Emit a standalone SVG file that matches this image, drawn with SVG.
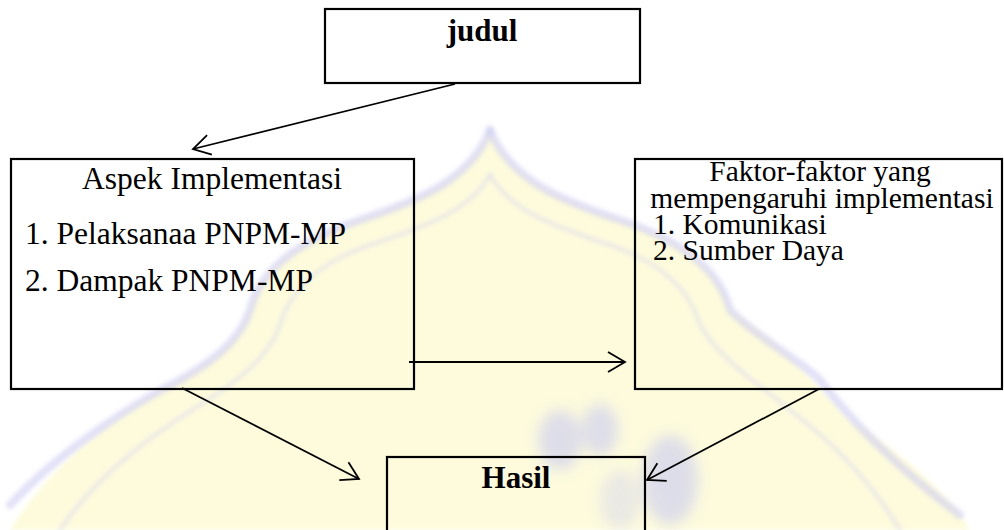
<svg xmlns="http://www.w3.org/2000/svg" width="1004" height="530" viewBox="0 0 1004 530">
  <style>
    .box { fill: none; stroke: #000; stroke-width: 2.2; }
    .t { font-family: "Liberation Serif", "Times New Roman", serif; font-size: 31.5px; fill: #000; }
    .tf { font-family: "Liberation Serif", "Times New Roman", serif; font-size: 29.5px; fill: #000; }
    .b { font-family: "Liberation Serif", "Times New Roman", serif; font-size: 31px; font-weight: bold; fill: #000; }
    .edge { fill: none; stroke: #000; stroke-width: 1.8; marker-end: url(#arr); }
    .wm { fill: none; stroke: #cfcdf2; stroke-linejoin: round; stroke-linecap: round; }
    .blob { fill: #c9caf2; }
  </style>
  <defs>
    <marker id="arr" markerUnits="userSpaceOnUse" markerWidth="30" markerHeight="30" refX="0" refY="0" viewBox="-20 -15 25 30" orient="auto">
      <path d="M -17 -10 L 0 0 L -17 10" fill="none" stroke="#000" stroke-width="1.8"/>
    </marker>
    <filter id="soft" x="-20%" y="-20%" width="140%" height="140%">
      <feGaussianBlur stdDeviation="7"/>
    </filter>
    <filter id="soft2" x="-10%" y="-10%" width="120%" height="120%">
      <feGaussianBlur stdDeviation="2"/>
    </filter>
  </defs>
  <rect x="0" y="0" width="1004" height="530" fill="#ffffff"/>

  <!-- faint watermark -->
  <g id="watermark">
    <path d="M 490 130 C 470 180, 420 200, 360 220 C 300 240, 260 270, 250 310 C 240 340, 215 360, 180 380 C 140 400, 60 450, 10 530 L 970 530 C 940 480, 880 440, 850 420 C 820 390, 790 350, 730 310 C 720 270, 680 240, 620 220 C 560 200, 510 180, 490 130 Z" fill="#fdfbd6" opacity="0.85" filter="url(#soft2)"/>
    <g filter="url(#soft2)">
      <path class="wm" stroke-width="8" opacity="0.6" d="M 490 130 C 470 180, 420 200, 360 220 C 300 240, 260 270, 250 310 C 240 340, 215 360, 180 380 C 140 400, 60 450, 10 505"/>
      <path class="wm" stroke-width="8" opacity="0.6" d="M 490 130 C 510 180, 560 200, 620 220 C 680 240, 720 270, 730 310 C 760 340, 800 360, 820 380 C 850 420, 900 470, 960 515"/>
      <path class="wm" stroke-width="4" opacity="0.4" d="M 490 175 C 470 210, 430 225, 370 245 C 320 262, 290 290, 280 325 C 270 355, 240 380, 200 405 C 160 430, 100 470, 60 530"/>
      <path class="wm" stroke-width="4" opacity="0.4" d="M 490 175 C 510 210, 550 225, 610 245 C 660 262, 690 290, 700 325 C 720 360, 760 385, 790 410 C 830 440, 870 480, 900 530"/>
    </g>
    <g opacity="0.6" filter="url(#soft)">
      <ellipse class="blob" cx="560" cy="440" rx="22" ry="30"/>
      <ellipse class="blob" cx="600" cy="430" rx="18" ry="26"/>
      <ellipse class="blob" cx="670" cy="480" rx="28" ry="45"/>
      <ellipse class="blob" cx="620" cy="500" rx="20" ry="30" opacity="0.6"/>
    </g>
  </g>

  <g id="judul">
    <rect class="box" x="325" y="9" width="315" height="74" fill="#fff"/>
    <text class="b" x="482" y="41" text-anchor="middle">judul</text>
  </g>

  <g id="aspek">
    <rect class="box" x="11" y="159" width="403" height="230" fill="#fff" fill-opacity="0.5"/>
    <text class="t" x="212" y="189" text-anchor="middle">Aspek Implementasi</text>
    <text class="t" x="25" y="244">1. Pelaksanaa PNPM-MP</text>
    <text class="t" x="25" y="291">2. Dampak PNPM-MP</text>
  </g>

  <g id="faktor">
    <rect class="box" x="635" y="159" width="367" height="230" fill="#fff" fill-opacity="0.5"/>
    <text class="tf" x="820" y="181" text-anchor="middle">Faktor-faktor yang</text>
    <text class="tf" x="822" y="208" text-anchor="middle">mempengaruhi implementasi</text>
    <text class="tf" x="653" y="234">1. Komunikasi</text>
    <text class="tf" x="653" y="260">2. Sumber Daya</text>
  </g>

  <g id="hasil">
    <rect class="box" x="387" y="457" width="258" height="90" fill="#fefde6" fill-opacity="0.4"/>
    <text class="b" x="516" y="488" text-anchor="middle">Hasil</text>
  </g>

  <g id="connectors">
    <line class="edge" x1="455" y1="84" x2="193" y2="149"/>
    <line class="edge" x1="409" y1="362" x2="625" y2="362"/>
    <line class="edge" x1="182" y1="388" x2="359" y2="479"/>
    <line class="edge" x1="819" y1="389" x2="647" y2="480"/>
  </g>
</svg>
